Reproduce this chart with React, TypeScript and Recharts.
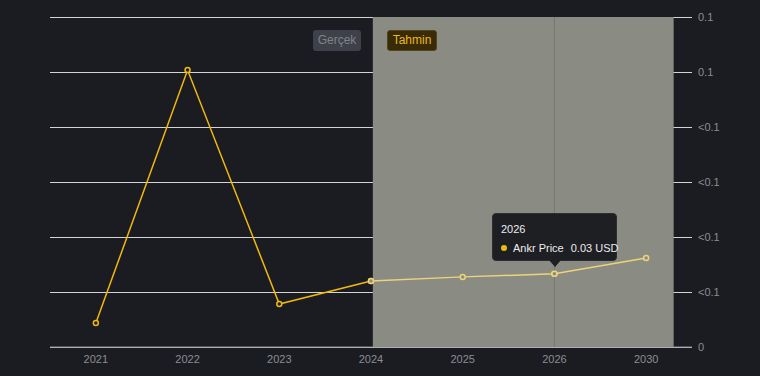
import { LineChart, Line, XAxis, YAxis, CartesianGrid, Tooltip, ReferenceArea } from "recharts";

const years = ["2021", "2022", "2023", "2024", "2025", "2026", "2030"];
const prices = [0.0087, 0.1007, 0.0156, 0.024, 0.0255, 0.0266, 0.0324];
const priceTicks = [0, 0.02, 0.04, 0.06, 0.08, 0.1, 0.12];

// index of the last real (non-forecast) year
const LAST_ACTUAL = 3;
// forecast band, in x index units
const FORECAST_START = 3.02;
const FORECAST_END = 6.3;

const data = years.map((year, i) => ({
  i,
  year,
  price: prices[i],
  actual: i <= LAST_ACTUAL ? prices[i] : null,
  forecast: i >= LAST_ACTUAL ? prices[i] : null,
}));

const font = "'Liberation Sans', Arial, sans-serif";
const bg = "#1b1c21";
const shade = "#8a8b82";
const yellow = "#f0b90b";
const paleYellow = "#ecd47a";

function formatPrice(v: number) {
  if (v === 0) return "0";
  if (v < 0.1) return "<0.1";
  return v.toFixed(1);
}

function PriceTooltip({ active, payload }: any) {
  if (!active || !payload || !payload.length) return null;
  const p = payload[0].payload;
  return (
    <div style={{ position: "relative", fontFamily: font, whiteSpace: "nowrap" }}>
      <div
        style={{
          width: 125,
          height: 48,
          boxSizing: "border-box",
          background: "#1e1f23",
          border: "1px solid #2c2d31",
          borderRadius: 4,
          padding: "8px 8px",
          color: "#eaecef",
          fontSize: 11,
        }}
      >
        <div style={{ lineHeight: "14px" }}>{p.year}</div>
        <div style={{ display: "flex", alignItems: "center", marginTop: 5, lineHeight: "14px" }}>
          <span
            style={{
              width: 6,
              height: 6,
              borderRadius: 3,
              background: yellow,
              display: "inline-block",
              marginRight: 6,
              flexShrink: 0,
            }}
          />
          <span>Ankr Price</span>
          <span style={{ marginLeft: 7 }}>{p.price.toFixed(2)} USD</span>
        </div>
      </div>
      <div
        style={{
          position: "absolute",
          left: 57,
          top: 47,
          width: 0,
          height: 0,
          borderLeft: "6px solid transparent",
          borderRight: "6px solid transparent",
          borderTop: "7px solid #1e1f23",
        }}
      />
    </div>
  );
}

export default function App() {
  return (
    <div
      style={{
        position: "fixed",
        left: 0,
        top: 0,
        width: 760,
        height: 376,
        background: bg,
        fontFamily: font,
      }}
    >
      <LineChart width={760} height={376} data={data} margin={{ top: 17, right: 8, bottom: 0, left: 50 }}>
        <ReferenceArea x1={FORECAST_START} x2={FORECAST_END} fill={shade} fillOpacity={1} stroke="none" />
        <CartesianGrid vertical={false} stroke="#d4d4d4" shapeRendering="crispEdges" />
        <XAxis
          type="number"
          dataKey="i"
          domain={[-0.5, 6.5]}
          ticks={[0, 1, 2, 3, 4, 5, 6]}
          tickFormatter={(i: number) => years[i]}
          axisLine={{ stroke: "#8a8a8a" }}
          tickLine={false}
          height={29}
          tick={{ fill: "#8b8d92", fontSize: 11, fontFamily: font }}
        />
        <YAxis
          orientation="right"
          domain={[0, 0.12]}
          ticks={priceTicks}
          tickFormatter={formatPrice}
          axisLine={false}
          tickLine={false}
          width={60}
          tickMargin={0}
          tick={{ fill: "#8b8d92", fontSize: 11, fontFamily: font }}
        />
        <Line
          type="linear"
          dataKey="actual"
          stroke={yellow}
          strokeWidth={1.5}
          dot={{ r: 2.5, fill: bg, stroke: yellow, strokeWidth: 1.5 }}
          activeDot={false}
          isAnimationActive={false}
        />
        <Line
          type="linear"
          dataKey="forecast"
          stroke={paleYellow}
          strokeWidth={1.5}
          dot={{ r: 2.5, fill: shade, stroke: paleYellow, strokeWidth: 1.5 }}
          activeDot={{ r: 2.5, fill: shade, stroke: paleYellow, strokeWidth: 1.5 }}
          isAnimationActive={false}
        />
        <Tooltip
          defaultIndex={5}
          position={{ x: 492, y: 213 }}
          content={<PriceTooltip />}
          cursor={{ stroke: "#77786f", strokeWidth: 1 }}
          wrapperStyle={{ outline: "none" }}
          isAnimationActive={false}
        />
      </LineChart>
      <div
        style={{
          position: "absolute",
          left: 313,
          top: 30,
          width: 48,
          height: 21,
          borderRadius: 3,
          background: "#3e414a",
          color: "#80838b",
          fontSize: 12,
          lineHeight: "21px",
          textAlign: "center",
        }}
      >
        Gerçek
      </div>
      <div
        style={{
          position: "absolute",
          left: 387,
          top: 30,
          width: 50,
          height: 21,
          boxSizing: "border-box",
          borderRadius: 3,
          background: "#3a2b08",
          border: "1px solid #54441e",
          color: "#e9b820",
          fontSize: 12,
          lineHeight: "19px",
          textAlign: "center",
        }}
      >
        Tahmin
      </div>
    </div>
  );
}
